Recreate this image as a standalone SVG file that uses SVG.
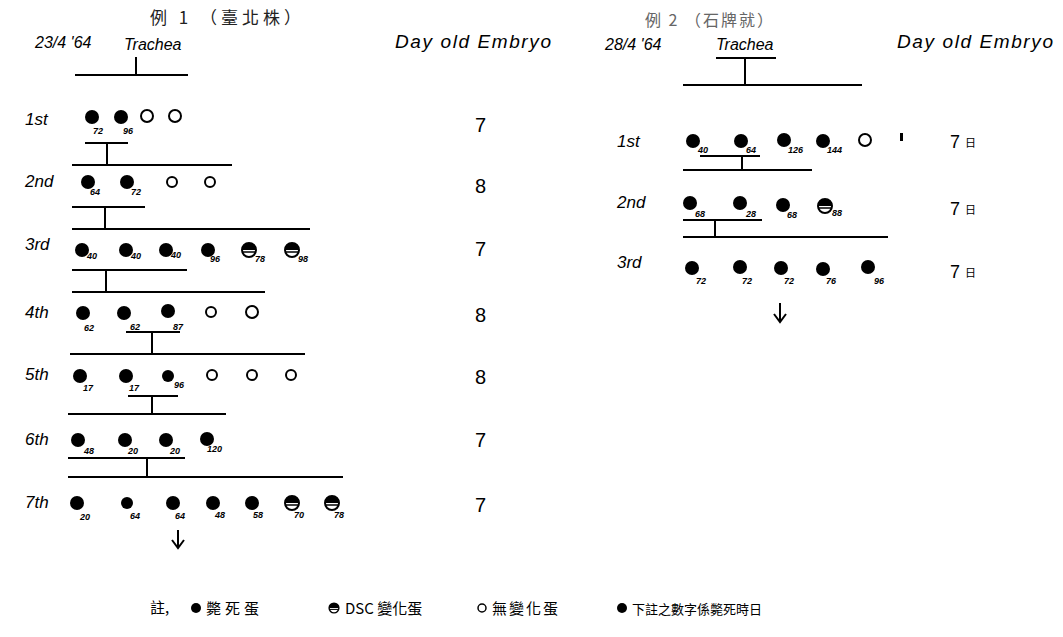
<svg xmlns="http://www.w3.org/2000/svg" width="1063" height="637" viewBox="0 0 1063 637">
<style>
.t{font-family:"Noto Sans CJK TC","Noto Sans CJK SC",sans-serif;font-size:17px;letter-spacing:4px;fill:#222}
.h{font-family:"Liberation Sans",sans-serif;font-style:italic;font-size:16px;fill:#000}
.e{font-family:"Liberation Sans",sans-serif;font-style:italic;font-size:19px;letter-spacing:1.6px;fill:#000}
.r{font-family:"Liberation Sans",sans-serif;font-style:italic;font-size:17px;fill:#000}
.n{font-family:"Liberation Sans",sans-serif;font-style:italic;font-weight:bold;font-size:9px;fill:#000}
.d{font-family:"Liberation Sans",sans-serif;font-size:20px;fill:#000}
.dr{font-family:"Liberation Sans",sans-serif;font-size:18px;fill:#000}
.j{font-family:"Noto Sans CJK TC","Noto Sans CJK SC",sans-serif;font-size:11px;fill:#000}
.l{font-family:"Noto Sans CJK TC","Noto Sans CJK SC",sans-serif;font-size:15px;fill:#000}
.ln{stroke:#000;stroke-width:2;fill:none}
.f{fill:#000}
.o{fill:#fff;stroke:#000;stroke-width:2}
</style>
<defs>
<g id="dsc"><circle r="7" fill="#fff" stroke="#000" stroke-width="2"/><path d="M-7,0 A7,7 0 0 1 7,0 Z" fill="#000"/><line x1="-7" y1="2" x2="7" y2="2" stroke="#000" stroke-width="1.5"/></g>
</defs>
<rect width="1063" height="637" fill="#fff"/>
<g id="titles">
<text class="t" x="150" y="24">例 1 （臺北株）</text>
<text class="t" x="645" y="26" style="fill:#666;font-size:16px;letter-spacing:2px">例 2 （石牌就）</text>
</g>
<g id="headers">
<text class="h" x="35" y="48">23/4 '64</text>
<text class="h" x="124" y="50">Trachea</text>
<text class="e" x="395" y="48">Day old Embryo</text>
<text class="h" x="605" y="50">28/4 '64</text>
<text class="h" x="716" y="50">Trachea</text>
<text class="e" x="897" y="48">Day old Embryo</text>
</g>
<g id="connectors">
<path class="ln" d="M136,57V75M75,75H188"/>
<path class="ln" d="M85,143H128M107,143V165M72,165H232"/>
<path class="ln" d="M72,207H145M105,207V229M72,229H310"/>
<path class="ln" d="M72,270H187M106,270V292M72,292H265"/>
<path class="ln" d="M126,332H180M152,332V354M70,354H305"/>
<path class="ln" d="M128,396H178M152,396V414M68,414H226"/>
<path class="ln" d="M68,458H185M147,458V477M68,477H343"/>
<path class="ln" d="M178,530V548M172,540L178,548L184,540"/>
<path class="ln" d="M716,58H776M745,58V85M683,85H862"/>
<path class="ln" d="M700,156H760M742,156V170M683,170H812"/>
<path class="ln" d="M683,220H762M715,220V237M683,237H888"/>
<path class="ln" d="M780,303V322M774,314L780,322L786,314"/>
</g>
<g id="left-rows">
<g id="L1"><text class="r" x="25" y="125">1st</text>
<circle class="f" cx="92" cy="117" r="7"/><circle class="f" cx="121" cy="117" r="7"/><circle class="o" cx="147" cy="116" r="6"/><circle class="o" cx="175" cy="116" r="6"/>
<text class="n" x="93" y="134">72</text><text class="n" x="123" y="134">96</text>
<text class="d" x="475" y="132">7</text></g>
<g id="L2"><text class="r" x="25" y="187">2nd</text>
<circle class="f" cx="88" cy="182" r="7"/><circle class="f" cx="127" cy="182" r="7"/><circle class="o" cx="172" cy="182" r="5"/><circle class="o" cx="210" cy="182" r="5"/>
<text class="n" x="90" y="195">64</text><text class="n" x="131" y="195">72</text>
<text class="d" x="475" y="193">8</text></g>
<g id="L3"><text class="r" x="25" y="250">3rd</text>
<circle class="f" cx="82" cy="250" r="7"/><circle class="f" cx="126" cy="250" r="7"/><circle class="f" cx="166" cy="250" r="7"/><circle class="f" cx="208" cy="250" r="7"/>
<use href="#dsc" x="249" y="250"/><use href="#dsc" x="292" y="250"/>
<text class="n" x="87" y="259">40</text><text class="n" x="131" y="259">40</text><text class="n" x="171" y="258">40</text><text class="n" x="210" y="262">96</text><text class="n" x="255" y="262">78</text><text class="n" x="298" y="262">98</text>
<text class="d" x="475" y="256">7</text></g>
<g id="L4"><text class="r" x="25" y="318">4th</text>
<circle class="f" cx="83" cy="313" r="7"/><circle class="f" cx="124" cy="313" r="7"/><circle class="f" cx="168" cy="311" r="7"/><circle class="o" cx="211" cy="312" r="5"/><circle class="o" cx="252" cy="312" r="6"/>
<text class="n" x="84" y="331">62</text><text class="n" x="130" y="330">62</text><text class="n" x="173" y="330">87</text>
<text class="d" x="475" y="322">8</text></g>
<g id="L5"><text class="r" x="25" y="380">5th</text>
<circle class="f" cx="80" cy="376" r="7"/><circle class="f" cx="126" cy="376" r="7"/><circle class="f" cx="168" cy="376" r="6"/><circle class="o" cx="212" cy="375" r="5"/><circle class="o" cx="252" cy="375" r="5"/><circle class="o" cx="291" cy="375" r="5"/>
<text class="n" x="83" y="391">17</text><text class="n" x="129" y="391">17</text><text class="n" x="174" y="388">96</text>
<text class="d" x="475" y="384">8</text></g>
<g id="L6"><text class="r" x="25" y="445">6th</text>
<circle class="f" cx="78" cy="440" r="7"/><circle class="f" cx="125" cy="440" r="7"/><circle class="f" cx="166" cy="440" r="7"/><circle class="f" cx="207" cy="439" r="7"/>
<text class="n" x="84" y="454">48</text><text class="n" x="128" y="454">20</text><text class="n" x="170" y="454">20</text><text class="n" x="207" y="452">120</text>
<text class="d" x="475" y="447">7</text></g>
<g id="L7"><text class="r" x="25" y="508">7th</text>
<circle class="f" cx="77" cy="503" r="7"/><circle class="f" cx="127" cy="503" r="6"/><circle class="f" cx="173" cy="503" r="7"/><circle class="f" cx="213" cy="503" r="7"/><circle class="f" cx="252" cy="503" r="7"/>
<use href="#dsc" x="292" y="503"/><use href="#dsc" x="332" y="503"/>
<text class="n" x="80" y="520">20</text><text class="n" x="130" y="519">64</text><text class="n" x="175" y="519">64</text><text class="n" x="215" y="518">48</text><text class="n" x="253" y="518">58</text><text class="n" x="294" y="518">70</text><text class="n" x="334" y="518">78</text>
<text class="d" x="475" y="512">7</text></g>
</g>
<g id="right-rows">
<g id="R1"><text class="r" x="617" y="147">1st</text>
<circle class="f" cx="693" cy="141" r="7"/><circle class="f" cx="741" cy="141" r="7"/><circle class="f" cx="784" cy="140" r="7"/><circle class="f" cx="823" cy="141" r="7"/><circle class="o" cx="865" cy="140" r="6"/>
<text class="n" x="698" y="153">40</text><text class="n" x="746" y="153">64</text><text class="n" x="788" y="153">126</text><text class="n" x="827" y="153">144</text>
<rect x="900" y="133" width="3" height="8" fill="#000"/>
<text class="dr" x="950" y="148">7</text><text class="j" x="965" y="147">日</text></g>
<g id="R2"><text class="r" x="617" y="208">2nd</text>
<circle class="f" cx="690" cy="203" r="7"/><circle class="f" cx="740" cy="203" r="7"/><circle class="f" cx="783" cy="205" r="7"/><use href="#dsc" x="825" y="206"/>
<text class="n" x="695" y="217">68</text><text class="n" x="746" y="217">28</text><text class="n" x="787" y="218">68</text><text class="n" x="832" y="216">88</text>
<text class="dr" x="950" y="215">7</text><text class="j" x="965" y="214">日</text></g>
<g id="R3"><text class="r" x="617" y="268">3rd</text>
<circle class="f" cx="692" cy="268" r="7"/><circle class="f" cx="740" cy="267" r="7"/><circle class="f" cx="781" cy="268" r="7"/><circle class="f" cx="823" cy="269" r="7"/><circle class="f" cx="868" cy="267" r="7"/>
<text class="n" x="696" y="284">72</text><text class="n" x="742" y="284">72</text><text class="n" x="784" y="284">72</text><text class="n" x="826" y="284">76</text><text class="n" x="874" y="284">96</text>
<text class="dr" x="950" y="278">7</text><text class="j" x="965" y="277">日</text></g>
</g>
<g id="legend">
<text class="l" x="150" y="613">註,</text>
<circle class="f" cx="196" cy="608" r="5"/><text class="l" x="206" y="614" style="letter-spacing:4px">斃死蛋</text>
<g transform="translate(334,608) scale(0.7)"><use href="#dsc"/></g><text class="l" x="345" y="614">DSC 變化蛋</text>
<circle class="o" cx="482" cy="608" r="4" style="stroke-width:1.5"/><text class="l" x="492" y="614" style="letter-spacing:2px">無變化蛋</text>
<circle class="f" cx="622" cy="608" r="5"/><text class="l" x="632" y="614" style="font-size:13px">下註之數字係斃死時日</text>
</g>
</svg>
